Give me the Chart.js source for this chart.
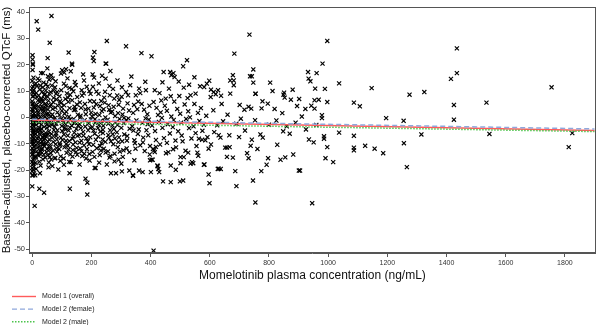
<!DOCTYPE html>
<html><head><meta charset="utf-8">
<script src="https://cdn.jsdelivr.net/npm/chart.js@4.4.1/dist/chart.umd.min.js"></script>
<style>html,body{margin:0;padding:0;background:#fff}#wrap{width:600px;height:325px}</style>
</head><body><div id="wrap"><canvas id="c" width="600" height="325"></canvas></div>
<script>
const xTicks=[0,200,400,600,800,1000,1200,1400,1600,1800];
const yTicks=[-50,-40,-30,-20,-10,0,10,20,30,40];
const modelConc=[0,1900];
const model1Overall=[-1.0,-5.0];
const model2Female=[-0.7,-4.4];
const model2Male=[-1.9,-5.4];
const modelLabels=['Model 1 (overall)','Model 2 (female)','Model 2 (male)'];

// observed [concentration ng/mL, change in QTcF ms]
const obsBand0=[
[3,11.6],[0,9.8],[7,12.4],[1,7.9],[4,4.2],[0,6.1],[9,8.6],[2,2.7],[5,0.3],[1,-1.8],
[8,3.5],[0,-4.1],[3,-2.6],[6,-6.7],[2,-9.3],[0,-7.2],[4,-12.5],[1,-10.1],[7,-14.8],[0,-16.9],
[3,-5.3],[5,-8.1],[2,-0.9],[0,-11.7],[6,1.4],[1,5.3],[4,-3.4],[8,-10.9],[2,-13.8],[0,-19.2],
[5,10.3],[3,-17.8],[1,0.9],[9,-2.2],[2,-6.0],[6,-15.6],[0,3.1],[4,8.1],[7,-4.9],[1,-8.6],
[0,-20.4],[3,-22],[10,-22],[1,23.6],[1,22],[2,20],[1,18],[4,15.1],[0,13.8],[0,-26.2],
[8,-33.6],[15,36.5],[20,33.3],[24,-27.1],[26,-21.2],[40,-28.6],[52,22.5],[59,28.3],[65,38.5],[2,20.4],
[13,9.2],[17,11.9],[11,3.8],[19,6.4],[14,-1.2],[12,0.6],[16,-4.7],[18,-9.8],[11,-6.3],[15,-12.9],
[13,-2.9],[20,1.9],[12,-15.1],[17,-7.9],[14,4.8],[19,-11.4],[16,7.7],[11,-17.3],[15,-0.2],[18,-5.6],
[20,-13.9],[12,12.9],[14,-8.8],[13,-19.6],[17,2.6],[22,8.3],[27,12.1],[24,-3.9],[29,3.2],[21,-7.4],
[26,5.9],[30,-1.0],[23,-11.1],[28,-5.1],[25,10.6],[22,-14.6],[27,0.2],[24,-16.8],[29,-8.3],[21,1.1],
[26,-12.7],[30,7.2],[23,-2.1],[28,-18.3],[25,-6.2],[22,4.1],[27,-9.7],[24,14.0],[29,-13.0],[21,-4.5],
[33,9.7],[37,3.3],[31,-2.7],[39,-8.6],[35,5.8],[32,-12.3],[38,0.7],[34,-5.7],[36,11.4],[40,-3.6],
[31,6.9],[39,-14.1],[33,-0.8],[37,-10.4],[35,1.9],[38,-6.9],[32,4.3],[36,-15.9],[34,-9.3],[40,8.5],
[31,-4.3],[38,13.2],[33,-11.8],[30,16.8],[36,16.8],[19,14.7],[35,-7.6],[42,7.1],[47,-1.9],[44,3.6],
[49,-6.8],[41,-11.0],[46,10.2],[43,0.1],[48,-13.2],[45,5.2],[50,-4.0],[42,-8.0],[47,12.6],[44,-15.3],
[41,2.4],[49,-2.8],[46,-10.0],[43,8.8],[45,-5.9],[48,1.3],[29,-14.0],[50,-12.0],[43,-7.1],[47,4.7],
[55,6.3],[58,-3.3],[52,11.7],[57,-8.4],[54,1.5],[59,-12.2],[53,3.0],[56,-5.4],[51,-0.6],[58,9.0],
[52,-14.4],[55,-1.7],[59,4.4],[53,-9.2],[57,14.3],[54,-6.5],[56,-17.1],[52,7.8],[58,-10.7],[55,-19.0],
[56,0.8],[51,18.6],[53,15.6],[64,16.0],[69,14.7],[37,-10],[0,-22],[6,-21.3],[3,-17.5],[9,-15.2],
[5,-12.6],[7,-9.9],[4,-2.2],[8,-0.9],[2,-4.7],[0,-14.2],[1,-3.0],[0,0.2],[6,-11.3],[3,-7.6],
[2,5.0],[0,-9.2],[1,-13.0],[5,-18.7],[3,-19.9],[4,9.5],[0,11.0],[2,-16.0],[7,-5.8],[1,2.0]
];
const obsBand1=[
[62,9.6],[67,-2.9],[64,4.7],[71,-9.3],[63,-13.6],[68,1.1],[72,7.4],[65,-6.3],[70,-0.4],[66,12.1],
[73,-4.8],[62,-11.1],[69,3.2],[64,-16.0],[71,5.8],[67,-7.7],[63,0.3],[70,-12.6],[65,-2.0],[72,10.2],
[68,-18.5],[76,-3.6],[82,6.8],[79,-10.2],[85,1.9],[77,11.4],[81,-6.1],[84,-13.0],[78,3.7],[86,-1.3],
[80,8.9],[83,-8.4],[77,-0.2],[85,-4.9],[79,13.7],[82,-11.7],[86,4.5],[78,-15.4],[81,-2.4],[84,9.6],
[80,-7.0],[88,-19.8],[92,0.9],[97,-7.8],[94,6.1],[100,-3.3],[91,-12.0],[98,10.3],[95,-1.0],[93,-9.9],
[99,3.9],[96,-14.8],[101,-5.2],[92,8.0],[98,-0.5],[94,-10.6],[100,2.5],[95,-16.5],[97,5.4],[102,-8.6],
[106,-1.8],[112,7.0],[109,-11.4],[115,2.1],[107,-6.5],[113,11.9],[110,-3.9],[116,-13.5],[108,4.6],[114,-8.9],
[111,-0.3],[117,9.1],[106,-15.6],[112,-4.6],[109,1.4],[115,-10.1],[107,12.8],[113,-2.7],[120,-6.9],[126,3.5],
[123,-12.2],[128,8.6],[121,-1.6],[125,-9.0],[119,14.8],[127,-3.8],[122,5.9],[129,-14.0],[124,0.2],[120,-10.8],
[126,11.2],[123,-5.0],[128,-0.9],[121,7.5],[125,-16.9],[130,-17.0],[136,-8.1],[141,2.8],[134,-3.2],[139,9.9],
[137,-12.4],[142,-5.8],[135,6.5],[140,-0.6],[138,-10.3],[143,4.0],[136,-14.9],[141,-2.2],[134,10.8],[139,-7.3],
[149,-4.4],[152,7.7],[146,-9.5],[154,1.0],[148,-13.1],[151,4.9],[145,-1.9],[153,-7.0],[147,12.2],[150,-11.6],
[155,-3.1],[146,2.9],[152,-14.2],[159,-6.7],[165,3.6],[162,-11.8],[168,8.3],[160,-2.6],[166,-8.9],[163,0.6],
[169,-14.7],[161,5.7],[164,-4.1],[167,10.3],[160,-9.6],[162,-0.1],[166,-12.9],[172,-5.5],[178,5.1],[175,-10.6],
[181,1.2],[174,9.1],[179,-3.5],[183,-8.0],[176,-13.8],[180,3.0],[177,-1.1],[184,11.6],[173,-6.9],[182,-15.6],
[185,-12.1],[189,-4.9],[195,6.2],[192,-10.2],[198,-0.8],[190,3.3],[196,-7.6],[193,-13.9],[197,8.9],[191,-2.3],
[194,-16.4],[199,1.8],[188,-9.1],[193,10.0],[196,-3.9],
[114,18.3],[108,17],[123,24.6],[135,20],[130,17.5],[175,14],[97,16.6],[101,17.9],[134,20.4],[172,16.3],
[126,-21.2],[127,-27.1],[180,-23.3],[186,-24.8],[186,-29.3],[160,-17.9],[107,-18],[59,-15.1],[76,-15.5],[144,13.4]
];
const obsBand2=[
[203,-3.7],[209,6.0],[206,-10.4],[214,1.3],[211,-6.2],[217,9.8],[204,-13.1],[212,-0.7],[208,3.7],[215,-8.5],
[205,11.6],[213,-2.1],[210,-15.0],[216,5.0],[207,-5.0],[218,-11.7],[202,0.4],[211,-19.2],[223,-7.3],[229,4.3],
[226,-2.8],[232,-12.6],[224,8.9],[230,-5.4],[227,0.9],[234,-9.8],[225,12.9],[231,-1.4],[228,-14.3],[233,6.2],
[222,-4.1],[229,-10.9],[235,2.4],[226,-17.2],[239,-6.0],[245,5.6],[242,-11.9],[247,0.0],[240,-3.2],[246,9.7],
[238,-8.4],[244,-1.3],[241,3.1],[248,-13.4],[243,7.5],[239,-4.7],[247,-9.3],[257,-2.4],[262,8.4],[259,-7.8],
[265,1.8],[256,-12.9],[263,-4.9],[258,4.6],[266,-9.1],[261,11.9],[255,-0.9],[264,-14.7],[260,2.9],[257,-6.7],
[271,-3.0],[277,7.1],[274,-10.2],[280,0.5],[272,-6.4],[278,-13.8],[275,4.0],[281,-1.8],[273,10.8],[279,-8.0],
[276,-4.4],[270,2.2],[286,-5.7],[292,4.8],[289,-11.3],[295,-0.6],[287,8.3],[293,-7.6],[290,1.6],[296,-13.0],
[288,-2.9],[294,6.6],[291,-9.4],[301,-4.0],[307,3.3],[304,-9.1],[310,-0.3],[302,7.8],[308,-12.5],[305,1.1],
[311,-6.5],[303,11.4],[309,-2.2],[306,-15.0],[318,-1.0],[324,8.4],[321,-7.1],[327,2.6],[319,-11.8],[329,-4.3],
[322,5.3],[331,12.2],[325,-0.4],[328,-13.2],[320,-8.8],[317,9.6],[345,-8.7],[345,-16.3],[350,8.4],[361,10.9],
[365,9.2],[384,10.3],[338,-3.4],[344,4.7],[352,-1.2],[357,-6.3],[341,1.7],[349,-11.9],[355,3.1],[360,-4.6],
[347,-9.8],[358,6.0],[342,-5.0],[365,-10.6],[361,-20.2],[340,-22],[372,-2.2],[378,2.9],[375,-7.7],[383,-0.4],
[370,5.1],[380,-12.8],[386,-4.9],[374,-9.5],[389,1.2],[392,-6.8],[396,4.4],[390,-2.6],[398,-10.9],[394,-0.9],
[397,-14.1],[382,13.5],[398,-16.3],
[205,22.7],[208,21.4],[210,24.8],[252,29],[250,20.4],[264,17.6],[317,27],[369,24.4],[248,20.4],[248,14.7],
[204,16.3],[209,15.1],[266,-21.2],[283,-21.2],[303,-20.5],[341,-22.2],[373,-20.8],[328,-20.2],[292,-16.1],[278,-16.7],
[261,-15.3],[236,15.8],[288,14.0],[335,15.5],[301,-17.6],[252,-17.9],[214,-19.2]
];
const obsBand3=[
[403,23.2],[444,17.2],[466,17.2],[470,16],[510,19.4],[523,21.7],[477,16.8],[481,15.3],[512,11.3],[590,12.8],
[604,10.5],[535,8.4],[552,9.0],[451,7.1],[468,8.0],[414,10.3],[407,-16.1],[414,-13.2],[423,-18.3],[424,-18.6],
[426,-19.6],[429,-20.8],[401,-20.8],[442,-24.3],[468,-24.6],[499,-24.3],[510,-24],[468,-18.3],[485,-19.9],[501,-17.4],
[544,-17.4],[501,-15.1],[512,-15.1],[540,-17],[535,-17.6],[582,-17.9],[596,-21.7],[599,-25],[403,-16.1],[412,-12.5],
[410,-50.6],[580,-18],
[405,-3.1],[410,5.8],[418,-8.6],[425,0.9],[408,-12.0],[420,3.6],[415,-5.2],[428,-1.7],[432,-10.3],[436,6.4],
[440,-4.0],[434,1.9],[445,-7.9],[438,-0.2],[448,4.4],[455,-9.7],[458,-2.6],[462,10.9],[455,2.5],[465,-6.1],
[460,-13.2],[470,0.3],[475,-3.7],[480,6.0],[484,-8.8],[478,-1.0],[490,3.2],[486,-11.4],[493,-5.3],[497,8.1],
[503,-2.0],[500,1.4],[508,-9.1],[515,4.9],[505,-6.9],[520,-0.6],[518,-12.7],[525,7.3],[530,-4.1],[527,2.3],
[538,-8.0],[533,0.0],[545,-3.4],[548,5.1],[555,-10.9],[560,1.7],[552,-6.0],[565,-1.4],[558,-13.4],[563,-8.1],
[570,3.5],[575,-5.1],[588,0.6],[580,-2.8],[592,-7.5],[598,13.9],[567,11.8],[548,15.2],[440,13.3],[430,9.2],
[495,13.6],[530,12.4],[581,11.5],[418,-11.2],[452,-13.6],[476,-12.1],[527,-13.4],[561,-14.6]
];
const obsBand4=[
[615,-5.6],[630,-6.8],[636,-7.7],[652,-11.5],[627,-19.6],[637,-19.6],[690,-26.1],[686,-20.4],[746,-24],[754,-32.3],
[774,-20.4],[792,-18],[797,-15.5],[839,-16.1],[855,-15.2],[882,-14.1],[901,-20.2],[905,-20.2],[946,-32.6],[991,-15.5],
[997,-11.3],[951,-9.5],[935,-8.4],[986,-7.2],[986,-8.1],[828,-10.4],[761,-12],[726,-13.6],[731,-15.5],[738,-10.8],
[742,-8.5],[699,-7.5],[666,-6.8],[658,-11.5],[667,-11.3],[678,-15.3],[658,-15],[771,-6.5],[779,-7.7],[848,-5.3],
[870,-6.2],[719,-5],[630,-19.5],[734,31.4],[997,29],[683,24.2],[981,20.4],[747,18.2],[742,15.6],[736,15.6],
[932,17.2],[961,16.8],[934,14.7],[940,13.7],[678,16],[681,14],[681,12.2],[669,14],[804,13.2],[956,10.9],
[989,10.8],[851,9.4],[849,8.6],[812,10],[880,10.5],[754,8.9],[853,7.5],[874,6.7],[902,7],[968,6.7],
[954,6.5],[997,5.8],[895,4.3],[923,3.2],[943,4.4],[954,3.3],[979,0.8],[979,-0.3],[911,0.3],[845,1.6],
[819,3.2],[747,13.2],[755,9],[778,6.1],[740,3.3],[775,3.4],[796,5.2],[701,4.7],[717,2.9],[731,4.0],
[753,-1.1],[620,8.8],[640,5.1],[612,2.7],[660,1.0],[645,-1.5],[625,-3.0],[690,-2.4],[705,-0.5],[800,-2.8],
[825,-1.2],[860,-3.4],[890,-2.0],[925,-4.6],[960,-2.9],[603,7.7],[613,9.6],[628,10.3],[638,8.2],[669,9.0],
[596,-11.9],[604,-10.3],[585,-8.7],[574,-8.5]
];
const obsBand5=[
[1037,12.9],[1147,11.1],[1087,5.6],[1107,4.2],[1196,-0.3],[1087,-11.5],[1087,-12.5],[1125,-10.8],[1157,-11.9],[1186,-13.6],
[1087,-7],[1037,-5.8],[1017,-17],[1435,26.2],[1435,16.8],[1415,14.6],[1275,8.6],[1325,9.6],[1425,4.7],[1535,5.6],
[1755,11.4],[1255,-1.3],[1425,-0.9],[1315,-6.5],[1545,-6.3],[1825,-6],[1256,-9.8],[1266,-18.9],[1813,-11.3]
];

const observed=[...obsBand0,...obsBand1,...obsBand2,...obsBand3,...obsBand4,...obsBand5];
const FONT='"Liberation Sans", Arial, Helvetica, sans-serif';
const lineStyles=[
  {color:'#ff5b5b',dash:[]},
  {color:'#8fa8dc',dash:[5,3]},
  {color:'#4cc44c',dash:[1.5,1.5]}
];
const modelSeries=[model1Overall,model2Female,model2Male];

const framePlugin={
  id:'frame',
  afterDraw(chart){
    const {ctx,chartArea:a}=chart;
    ctx.save();
    ctx.strokeStyle='#555';ctx.lineWidth=1;
    ctx.strokeRect(Math.round(a.left)+0.5,Math.round(a.top)+0.5,Math.round(a.right-a.left)-1,Math.round(a.bottom-a.top)-1);
    const lineDs=chart.data.datasets.filter(d=>d.isModel);
    lineDs.forEach((d,i)=>{
      const y=296+i*12.6;
      ctx.beginPath();
      ctx.setLineDash(d.borderDash||[]);
      ctx.strokeStyle=d.borderColor;ctx.lineWidth=1.4;
      ctx.moveTo(12,y+0.5);ctx.lineTo(36,y+0.5);ctx.stroke();
      ctx.setLineDash([]);
      ctx.fillStyle='#222';ctx.font='7px '+FONT;ctx.textBaseline='middle';ctx.textAlign='left';
      ctx.fillText(d.label,42,y+0.5);
    });
    ctx.restore();
  }
};

const datasets=[{
  label:'Observed',
  data:observed.map(p=>({x:p[0],y:p[1]})),
  pointStyle:'crossRot',pointRadius:2.9,pointHoverRadius:2.9,
  borderColor:'#000',backgroundColor:'#000',borderWidth:1.15,order:10
}];
modelSeries.forEach((s,i)=>{
  datasets.push({
    type:'line',isModel:true,label:modelLabels[i],
    data:modelConc.map((c,j)=>({x:c,y:s[j]})),
    borderColor:lineStyles[i].color,borderDash:lineStyles[i].dash,borderWidth:1.5,
    pointRadius:0,fill:false,tension:0,order:3-i
  });
});

new Chart(document.getElementById('c'),{
  type:'scatter',
  data:{datasets},
  plugins:[framePlugin],
  options:{
    responsive:false,animation:false,devicePixelRatio:1,
    layout:{padding:{top:7,right:2,bottom:42,left:0}},
    plugins:{legend:{display:false},tooltip:{enabled:false}},
    scales:{
      x:{type:'linear',min:-11,max:1905,
        afterBuildTicks:s=>{s.ticks=xTicks.map(v=>({value:v}));},
        afterFit:s=>{s.height=30;},
        grid:{drawOnChartArea:false,drawTicks:true,tickLength:4,color:'#555'},
        border:{color:'#555',width:1},
        ticks:{font:{size:7,family:FONT},color:'#333',padding:2,maxRotation:0,autoSkip:false,callback:v=>String(v)},
        title:{display:true,text:'Momelotinib plasma concentration (ng/mL)',font:{size:12,family:FONT},color:'#111',padding:{top:0,bottom:0}}
      },
      y:{type:'linear',min:-51.5,max:41.9,
        afterBuildTicks:s=>{s.ticks=yTicks.map(v=>({value:v}));},
        afterFit:s=>{s.width=29;},
        grid:{drawOnChartArea:false,drawTicks:true,tickLength:3,color:'#555'},
        border:{color:'#555',width:1},
        ticks:{font:{size:7.5,family:FONT},color:'#333',padding:1,autoSkip:false,callback:v=>String(v)},
        title:{display:true,text:'Baseline-adjusted, placebo-corrected QTcF (ms)',font:{size:11.5,family:FONT},color:'#111',padding:{top:0,bottom:0}}
      }
    }
  }
});
</script></body></html>
